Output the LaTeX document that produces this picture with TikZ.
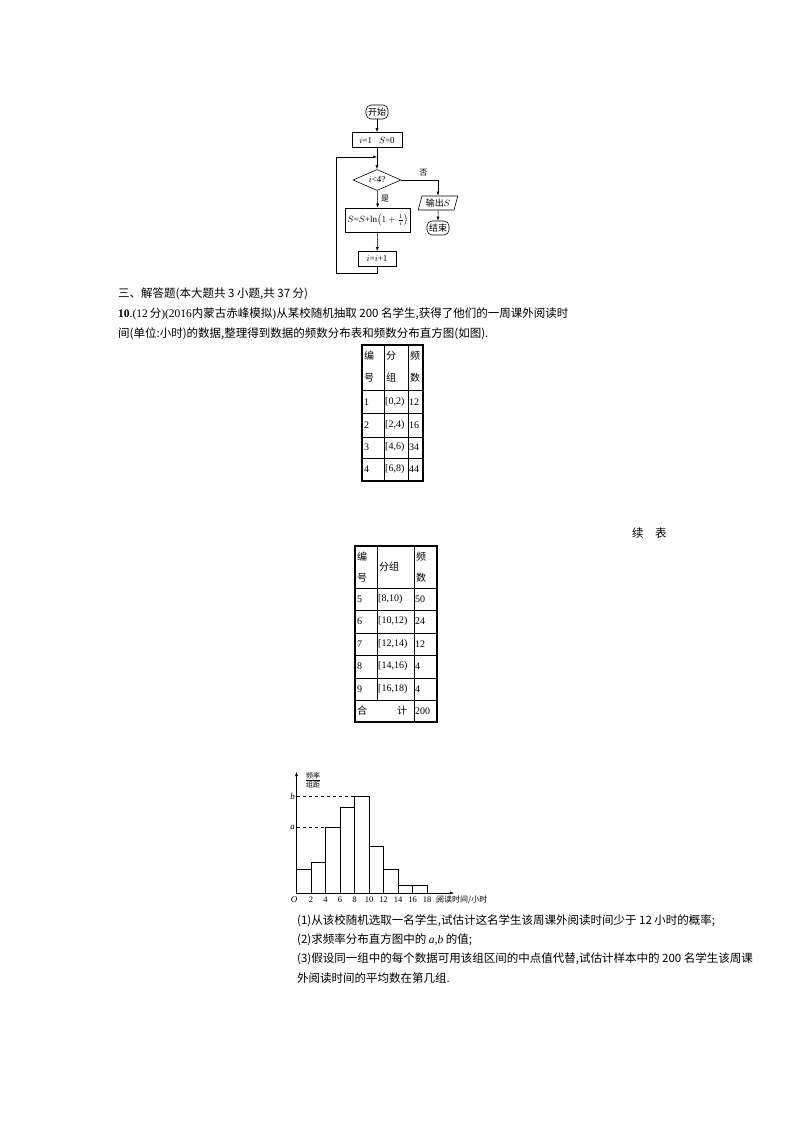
\documentclass[tikz,border=0pt]{standalone}
\usepackage{fontspec}
\setmainfont{Liberation Serif}
\newfontfamily\cjk{Noto Sans CJK SC}
\usetikzlibrary{shapes.geometric,arrows.meta}
\begin{document}
\begin{tikzpicture}[x=1pt,y=-1pt,
  fbox/.style={draw,line width=0.6pt,minimum height=15pt,inner sep=2pt,font=\fontsize{9}{9}\selectfont},
  arr/.style={-{Latex[length=4pt,width=3pt]},line width=0.5pt},
  txt/.style={anchor=west,inner sep=0,font=\fontsize{11.5}{12}\selectfont},
  tb/.style={line width=0.5pt},
  tt/.style={inner sep=0,font=\fontsize{10}{10}\selectfont,anchor=west},
  bar/.style={draw,line width=0.6pt}]
\useasboundingbox (0,0) rectangle (794,1123);
% flowchart
\node[fbox,rounded corners=5pt,minimum height=14pt] (st) at (377,112) {\cjk 开始};
\node[fbox,minimum width=50pt] (in) at (377,140) {$i$=1，$S$=0};
\node[draw,diamond,aspect=2.4,line width=0.6pt,inner sep=1pt,minimum width=48pt,minimum height=21pt,font=\fontsize{9}{9}\selectfont] (dm) at (377,180) {$i$<4?};
\node[fbox,minimum width=65pt,minimum height=24pt] (sb) at (378,220) {$S$=$S$+ln$\left(1+\frac{1}{i}\right)$};
\node[fbox,minimum width=38pt] (ib) at (377,259) {$i$=$i$+1};
\node[fbox,trapezium,trapezium left angle=75,trapezium right angle=105,minimum width=34pt,minimum height=14pt] (out) at (438,203) {\cjk 输出$S$};
\node[fbox,rounded corners=5pt,minimum height=14pt] (en) at (438,228) {\cjk 结束};
\coordinate (lp) at (377,157);
\draw[arr] (st) -- (in);
\draw[arr] (in) -- (dm);
\draw[arr] (dm) -- node[right,pos=0.45,font=\cjk\fontsize{8}{8}\selectfont]{是} (sb);
\draw[arr] (sb) -- (ib);
\draw[arr] (dm.east) -| node[above,pos=0.3,font=\cjk\fontsize{8}{8}\selectfont]{否} (out);
\draw[arr] (out) -- (en);
\draw[arr] (ib.south) -- (377,273) -| (336,157) -- (lp);
% text
\node[txt] (t0) at (118,294) {\cjk 三、解答题(本大题共 3 小题,共 37 分)};
\node[txt] (t1) at (118,314) {\textbf{10}.(12\,{\cjk 分})(2016{\cjk 内蒙古赤峰模拟})\cjk 从某校随机抽取 200 名学生,获得了他们的一周课外阅读时};
\node[txt] (t2) at (118,334) {\cjk 间(单位:小时)的数据,整理得到数据的频数分布表和频数分布直方图(如图).};
% table 1
\draw[line width=1.6pt] (362,345) rectangle (423,481);
\draw[tb] (384,345)--(384,481) (408,345)--(408,481);
\foreach \y in {390,413,437,458} \draw[tb] (362,\y)--(423,\y);
\node[tt] (a1) at (364,356) {\cjk 编}; \node[tt] (a2) at (364,378) {\cjk 号};
\node[tt] (a3) at (386,356) {\cjk 分}; \node[tt] (a4) at (386,378) {\cjk 组};
\node[tt] (a5) at (410,356) {\cjk 频}; \node[tt] (a6) at (410,378) {\cjk 数};
\foreach \n/\g/\f/\y in {1/{[0,2)}/12/402,2/{[2,4)}/16/425,3/{[4,6)}/34/447,4/{[6,8)}/44/469}{
 \node[tt] at (364,\y) {\n}; \node[tt] at (385,\y) {\g}; \node[tt] at (409,\y) {\f};}
\node[txt] (xb) at (632,533) {\cjk 续\quad 表};
% table 2
\draw[line width=1.6pt] (355,546) rectangle (437,722);
\draw[tb] (377,546)--(377,700) (414,546)--(414,722);
\foreach \y in {588,610,633,655,678,700} \draw[tb] (355,\y)--(437,\y);
\node[tt] (b1) at (357,557) {\cjk 编}; \node[tt] (b2) at (357,578) {\cjk 号};
\node[tt] (b3) at (379,567) {\cjk 分组};
\node[tt] (b5) at (416,557) {\cjk 频}; \node[tt] (b6) at (416,578) {\cjk 数};
\foreach \n/\g/\f/\y in {5/{[8,10)}/50/599,6/{[10,12)}/24/621,7/{[12,14)}/12/644,8/{[14,16)}/4/666,9/{[16,18)}/4/689}{
 \node[tt] at (357,\y) {\n}; \node[tt] at (378,\y) {\g}; \node[tt] at (415,\y) {\f};}
\node[tt] (b7) at (357,711) {\cjk 合};
\node[tt] (b8) at (397,711) {\cjk 计};
\node[tt] (b9) at (415,711) {200};
% histogram
\coordinate (O) at (296.5,893);
\foreach \i/\c in {0/12,1/16,2/34,3/44,4/50,5/24,6/12,7/4,8/4}
  \draw[bar] (296.5+14.5*\i,893) rectangle (296.5+14.5*\i+14.5,893-1.94*\c);
\draw[arr] (O) -- (296.5,772);
\draw[arr] (O) -- (454,893);
\draw[dashed,line width=0.5pt] (296.5,796) -- (354.5,796);
\draw[dashed,line width=0.5pt] (296.5,827) -- (325.5,827);
\node[font=\itshape\fontsize{9}{9}\selectfont,left,inner sep=1pt] (lb) at (296,796) {b};
\node[font=\itshape\fontsize{9}{9}\selectfont,left,inner sep=1pt] (la) at (296,827) {a};
\node[font=\cjk\fontsize{7}{8}\selectfont,inner sep=0.5pt,align=center] (fr) at (313,780) {\underline{频率}\\[-1pt]组距};
\node[font=\itshape\fontsize{9}{9}\selectfont] (oo) at (294,900) {O};
\foreach \i in {2,4,...,18} \node[font=\fontsize{8.5}{9}\selectfont] at (296.5+7.25*\i,900) {\i};
\node[font=\cjk\fontsize{8}{8}\selectfont,anchor=west,inner sep=0] (xl) at (436,900) {阅读时间/小时};
% questions
\node[txt] (q1) at (297,921) {\cjk (1)从该校随机选取一名学生,试估计这名学生该周课外阅读时间少于 12 小时的概率;};
\node[txt] (q2) at (297,940) {\cjk (2)求频率分布直方图中的 {\rmfamily\itshape a,b} 的值;};
\node[txt] (q3) at (297,959) {\cjk (3)假设同一组中的每个数据可用该组区间的中点值代替,试估计样本中的 200 名学生该周课};
\node[txt] (q4) at (297,978) {\cjk 外阅读时间的平均数在第几组.};
\end{tikzpicture}
\end{document}
